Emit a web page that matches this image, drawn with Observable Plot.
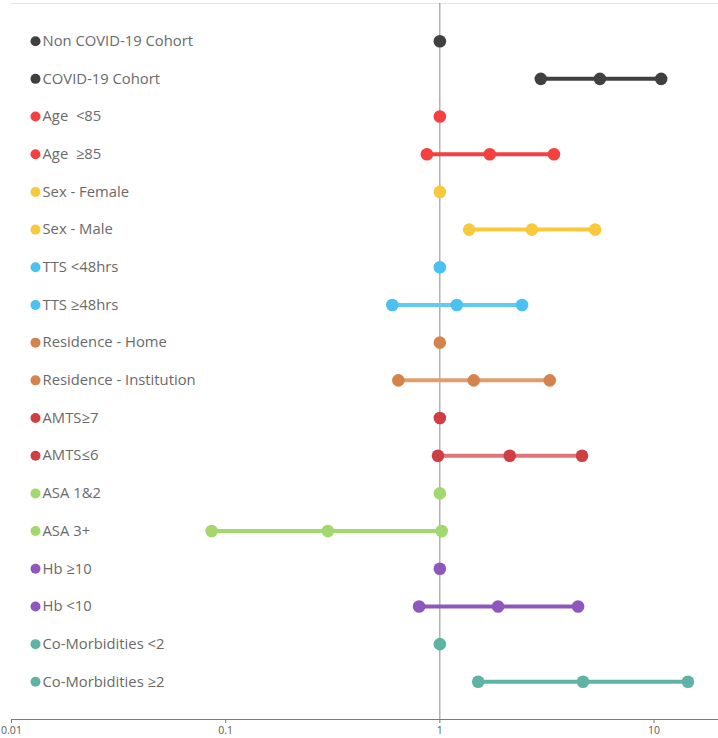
<!DOCTYPE html>
<html><head><meta charset="utf-8">
<script src="https://cdn.jsdelivr.net/npm/d3@7"></script>
<script src="https://cdn.jsdelivr.net/npm/@observablehq/plot@0.6"></script>
<style>
html,body{margin:0;padding:0;background:#fff;}
#chart{width:718px;height:738px;}
</style>
</head><body><div id="chart"></div>
<script>
const labels = ["Non COVID-19 Cohort","COVID-19 Cohort","Age  <85","Age  ≥85","Sex - Female","Sex - Male","TTS <48hrs","TTS ≥48hrs","Residence - Home","Residence - Institution","AMTS≥7","AMTS≤6","ASA 1&2","ASA 3+","Hb ≥10","Hb <10","Co-Morbidities <2","Co-Morbidities ≥2"];
const dotColors = ["#404040","#404040","#f5403f","#f5403f","#f8c93a","#f8c93a","#4ac1f0","#4ac1f0","#d4834a","#d4834a","#cf3e43","#cf3e43","#a3d86f","#a3d86f","#8f57bd","#8f57bd","#5fb3a4","#5fb3a4"];
const lineColors = ["#404040","#404040","#f5403f","#f5403f","#f8c93a","#f8c93a","#62cbf4","#62cbf4","#e39c6c","#e39c6c","#e07478","#e07478","#a3d86f","#a3d86f","#8f57bd","#8f57bd","#5fb3a4","#5fb3a4"];
const lower    = [null, 2.96, null, 0.87, null, 1.37, null, 0.60, null, 0.64, null, 0.98, null, 0.086, null, 0.80, null, 1.51];
const estimate = [1,    5.59, 1,    1.71, 1,    2.69, 1,    1.20, 1,    1.44, 1,    2.12, 1,    0.30,  1,    1.87, 1,    4.66];
const upper    = [null, 10.8, null, 3.41, null, 5.31, null, 2.42, null, 3.26, null, 4.61, null, 1.02,  null, 4.42, null, 14.4];
const xTicks = [0.01, 0.1, 1, 10];
const xTickLabels = ["0.01", "0.1", "1", "10"];

const rows = labels.map((label, i) => ({label, i, dot: dotColors[i], line: lineColors[i], lo: lower[i], est: estimate[i], hi: upper[i]}));
const ciRows = rows.filter(d => d.lo != null);
const points = [];
rows.forEach(d => {
  if (d.lo == null) points.push({i: d.i, v: d.est, c: d.dot});
  else [d.lo, d.est, d.hi].forEach(v => points.push({i: d.i, v, c: d.dot}));
});
const fmt = (d) => xTickLabels[xTicks.indexOf(d)] ?? "";

const chart = Plot.plot({
  width: 718,
  height: 738,
  marginLeft: 11,
  marginRight: 0,
  marginTop: 3,
  marginBottom: 19,
  style: {fontFamily: "'Open Sans', sans-serif", background: "#fff"},
  x: {type: "log", domain: [0.01, 20], ticks: xTicks, tickFormat: fmt},
  y: {domain: [-1, 18], reverse: true, axis: null},
  marks: [
    Plot.ruleY([-1], {stroke: "#e2e2e2", strokeWidth: 1}),
    Plot.ruleX([1], {y1: -1, y2: 18, stroke: "#8a8a8a", strokeWidth: 1}),
    Plot.ruleY([18], {stroke: "#7a7a7a", strokeWidth: 1.2}),
    Plot.axisX({ticks: xTicks, tickFormat: fmt, tickSize: 4, tickPadding: 3, stroke: "#7a7a7a", fill: "#595959", fontSize: 10.5}),
    Plot.link(ciRows, {x1: "lo", x2: "hi", y1: "i", y2: "i", stroke: "line", strokeWidth: 4}),
    Plot.dot(points, {x: "v", y: "i", r: 6.3, fill: "c", stroke: "none"}),
    Plot.dot(rows, {y: "i", frameAnchor: "left", dx: 24, r: 5, fill: "dot", stroke: "none"}),
    Plot.text(rows, {y: "i", frameAnchor: "left", dx: 31, text: "label", textAnchor: "start", fill: "#6a6a6a", fontSize: 14.8})
  ]
});
document.getElementById("chart").appendChild(chart);
</script>
</body></html>
